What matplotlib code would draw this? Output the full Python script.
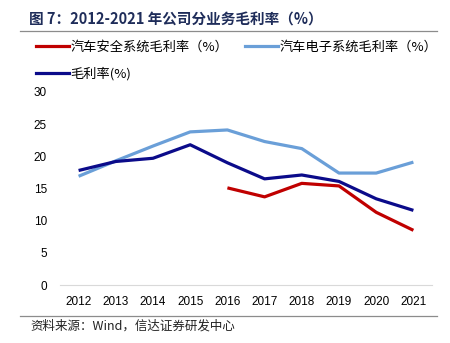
import matplotlib
matplotlib.use("Agg")
import matplotlib.pyplot as plt
from matplotlib.lines import Line2D

plt.rcParams['font.family'] = ['Noto Sans CJK SC', 'DejaVu Sans']

years = ['2012', '2013', '2014', '2015', '2016', '2017', '2018', '2019', '2020', '2021']
safety_margin = [None, None, None, None, 15.1, 13.7, 15.8, 15.4, 11.3, 8.5]
electronics_margin = [16.9, 19.3, 21.6, 23.8, 24.1, 22.3, 21.2, 17.4, 17.4, 19.1]
total_margin = [17.8, 19.2, 19.7, 21.8, 19.0, 16.5, 17.1, 16.1, 13.4, 11.6]
yticks = [0, 5, 10, 15, 20, 25, 30]

labels = ['汽车安全系统毛利率（%）', '汽车电子系统毛利率（%）', '毛利率(%)']
colors = ['#C00000', '#6A9FD8', '#0B0B8A']

fig = plt.figure(figsize=(4.5, 3.43), dpi=100)
ax = fig.add_axes([60/450, 1-285/343, 372/450, 193/343])

x = list(range(len(years)))
xs = [i for i, v in zip(x, safety_margin) if v is not None]
vs = [v for v in safety_margin if v is not None]
ax.plot(xs, vs, color=colors[0], lw=2.3, solid_capstyle='butt')
ax.plot(x, electronics_margin, color=colors[1], lw=2.3, solid_capstyle='butt')
ax.plot(x, total_margin, color=colors[2], lw=2.3, solid_capstyle='butt')

ax.set_xlim(-0.5, len(years) - 0.5)
ax.set_ylim(0, 30)
ax.set_yticks(yticks)
ax.set_xticks(x)
ax.set_xticklabels(years, fontsize=8.5, family=['Liberation Sans', 'DejaVu Sans'])
ax.set_yticklabels([str(t) for t in yticks], fontsize=8.5, family=['Liberation Sans', 'DejaVu Sans'])
ax.tick_params(length=0, pad=9.5, axis='y')
ax.tick_params(length=0, pad=8, axis='x')
for s in ['top', 'right', 'left']:
    ax.spines[s].set_visible(False)
ax.spines['bottom'].set_color('#D9D9D9')
ax.spines['bottom'].set_linewidth(0.8)

# title and rules
fig.text(29/450, 1-20/343, '图 7：2012-2021 年公司分业务毛利率（%）', fontsize=10.5,
         fontweight='bold', color='#1F2D5A', va='center', ha='left')
fig.add_artist(Line2D([20/450, 437/450], [1-31/343, 1-31/343], color='#8C8C8C', lw=0.9))
fig.add_artist(Line2D([20/450, 437/450], [1-316/343, 1-316/343], color='#8C8C8C', lw=0.9))
fig.text(30/450, 1-326/343, '资料来源：Wind，信达证券研发中心', fontsize=9,
         style='italic', color='#222222', va='center', ha='left')

# legend
handles = [Line2D([], [], color=c, lw=2.3) for c in colors]
order = [0, 2, 1]
fig.legend([handles[i] for i in order], [labels[i] for i in order], ncol=2,
           loc='upper left', bbox_to_anchor=(36/450, 1-41/343), frameon=False,
           fontsize=9.5, handlelength=2.5, handletextpad=0.1, columnspacing=1.3,
           labelspacing=0.95, borderaxespad=0, borderpad=0)

fig.savefig('out.png', dpi=100)
